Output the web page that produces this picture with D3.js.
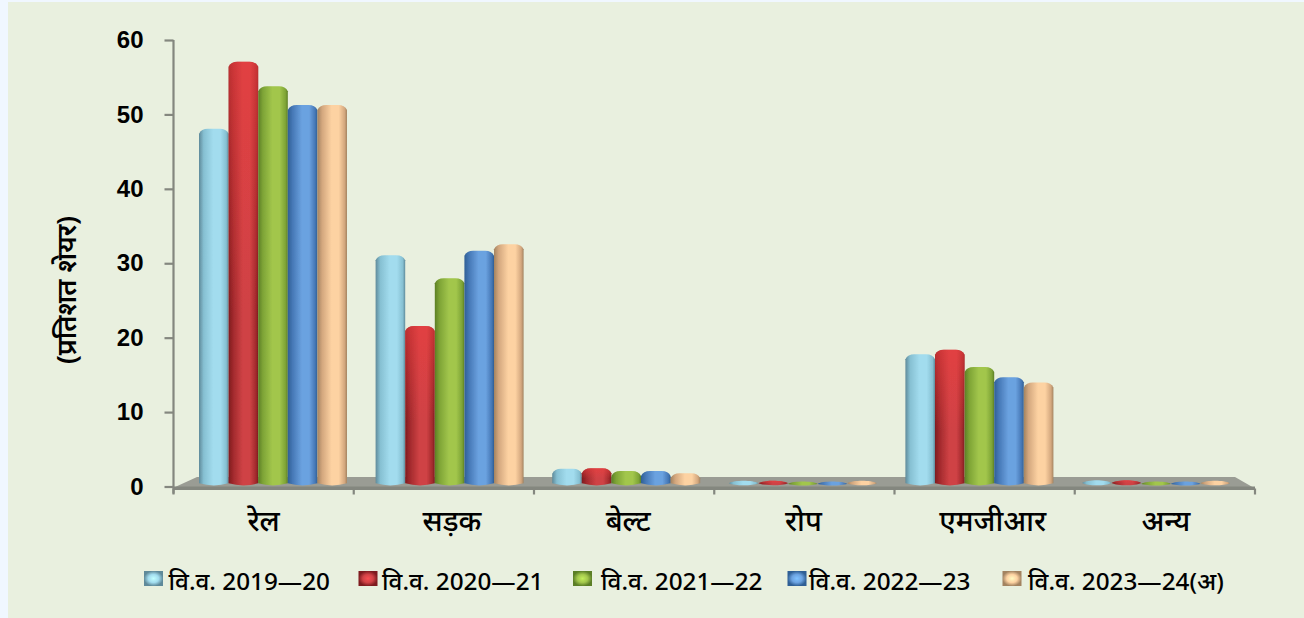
<!DOCTYPE html>
<html><head><meta charset="utf-8">
<script src="https://cdn.jsdelivr.net/npm/d3@7"></script>
<style>html,body{margin:0;padding:0;background:#f0f7ff}svg{display:block}</style></head>
<body><svg id="c" width="1304" height="618"></svg>
<script>
const categories = ["रेल","सड़क","बेल्ट","रोप","एमजीआर","अन्य"];
const seriesNames = ["वि.व. 2019—20","वि.व. 2020—21","वि.व. 2021—22","वि.व. 2022—23","वि.व. 2023—24(अ)"];
const fy1920 = [47.8,30.8,2.1,0.4,17.5,0.5];
const fy2021 = [56.8,21.3,2.2,0.4,18.1,0.5];
const fy2122 = [53.5,27.7,1.8,0.3,15.8,0.3];
const fy2223 = [51.0,31.4,1.8,0.3,14.4,0.3];
const fy2324 = [51.0,32.3,1.5,0.4,13.7,0.4];
const allSeries = [fy1920,fy2021,fy2122,fy2223,fy2324];
const yTicks = [0,10,20,30,40,50,60];
const colors = [
 ["#5f8a9a","#a2dcee","#86c0d2"],
 ["#7e1b1f","#cf4245","#a22a2d"],
 ["#5c7f26","#a2c64c","#7ea436"],
 ["#2f5f95","#6ba2e0","#4678b6"],
 ["#a38360","#fdd2a2","#d3a77e"]];
const legendX = [144,358.5,573,787.5,1002.5];
const legendTextX = [168.5,382,601,809,1028];
const labelDx = [0,8,4,-1,8,1];

const svg = d3.select("#c");
const defs = svg.append("defs");
defs.append("filter").attr("id","soft").attr("x","-5%").attr("y","-5%").attr("width","110%").attr("height","110%")
  .append("feGaussianBlur").attr("stdDeviation",0.6);
const sheen = defs.append("linearGradient").attr("id","sheen").attr("x2",0).attr("y2",1);
sheen.append("stop").attr("offset",0).attr("stop-color","#f04040").attr("stop-opacity",.55);
sheen.append("stop").attr("offset",.6).attr("stop-color","#f04040").attr("stop-opacity",0);
colors.forEach((c,i)=>{
  const g = defs.append("linearGradient").attr("id","g"+i);
  [[0,c[0]],[.16,c[2]],[.48,c[1]],[.72,c[1]],[.92,c[2]],[1,c[0]]].forEach(s=>g.append("stop").attr("offset",s[0]).attr("stop-color",s[1]));
  const l = defs.append("radialGradient").attr("id","l"+i);
  [[0,d3.color(c[1]).brighter(.5).formatHex()],[.55,c[1]],[1,c[0]]].forEach(s=>l.append("stop").attr("offset",s[0]).attr("stop-color",s[1]));
});
const font = "'Noto Sans','Liberation Sans',sans-serif";
const y = d3.scaleLinear().domain([0,60]).range([486.5,40]);
const xAxisScale = d3.scaleBand().domain(categories).range([173.5,1255]);
const xBars = d3.scaleBand().domain(categories).range([184.7,1244.3]);
const xSeries = d3.scaleBand().domain(d3.range(5)).range([-74,74]);
const axisColor = "#84877f";

svg.append("rect").attr("x",8).attr("y",2).attr("width",1296).attr("height",616).attr("fill","#e9f0df");
// floor
svg.append("path").attr("d",`M174,${y(0)+1} L197,477 L1235,477 L1255,${y(0)+2} Z`).attr("fill","#9a9c94");
svg.append("rect").attr("x",173.5).attr("y",y(0)).attr("width",1081.5).attr("height",3.5).attr("fill",axisColor);
// axes
const gy = svg.append("g").attr("transform","translate(173.5,0)")
  .call(d3.axisLeft(y).tickValues(yTicks).tickSize(9).tickPadding(21));
gy.selectAll("path,line").attr("stroke",axisColor).attr("stroke-width",2.2);
gy.selectAll("text").attr("font-family","'Liberation Sans',Arial,sans-serif").attr("font-weight","bold").attr("font-size",24).attr("fill","#000");
gy.select(".domain").attr("d",`M0,${y(60)}V${y(0)+7}`);
const gx = svg.append("g").attr("transform",`translate(0,${y(0)+3})`)
  .call(d3.axisBottom(xAxisScale).tickSize(0).tickPadding(21));
gx.select(".domain").remove();
gx.selectAll("text").attr("dx",(d,i)=>labelDx[i]).attr("font-family",font).attr("font-size",29).attr("font-weight",500).attr("fill","#000");
const edges = categories.map(c=>xAxisScale(c)).concat([xAxisScale.range()[1]]);
svg.append("g").selectAll("line").data(edges).join("line")
  .attr("x1",d=>d).attr("x2",d=>d).attr("y1",y(0)+2).attr("y2",y(0)+8).attr("stroke",axisColor).attr("stroke-width",2.2);
// bars
const capRy = 5;
const barPath = (v,ci,si)=>{
  const x0 = xBars(categories[ci])+xBars.bandwidth()/2+xSeries(si);
  const w = xSeries.bandwidth();
  const top = y(v)-2, base = y(0)-1.5;
  if (base-top < 6) {
    const m = (top+base)/2;
    return `M${x0},${m} C${x0+w*.2},${top-1.5} ${x0+w*.8},${top-1.5} ${x0+w},${m} C${x0+w*.8},${base+1} ${x0+w*.2},${base+1} ${x0},${m} Z`;
  }
  const ry = Math.min(capRy,(base-top)/2+1.5);
  return `M${x0},${top+ry} Q${x0+w*.08},${top} ${x0+w*.3},${top} L${x0+w*.7},${top} Q${x0+w*.92},${top} ${x0+w},${top+ry} L${x0+w},${base-ry/3} Q${x0+w/2},${base+ry/2} ${x0},${base-ry/3} Z`;
};
const barsG = svg.append("g").attr("filter","url(#soft)");
allSeries.forEach((vals,si)=>{
  barsG.append("g").selectAll("path").data(vals).join("path")
    .attr("fill",`url(#g${si})`)
    .attr("d",(v,ci)=>barPath(v,ci,si));
});
barsG.append("g").selectAll("path").data(fy2021).join("path")
  .attr("fill","url(#sheen)").attr("d",(v,ci)=>barPath(v,ci,1));
// y title
svg.append("text").attr("transform","translate(76,290) rotate(-90)").attr("text-anchor","middle")
  .attr("font-family",font).attr("font-size",27).attr("font-weight",600).attr("fill","#000").text("(प्रतिशत शेयर)");
// legend
const lg = svg.append("g");
lg.selectAll("rect").data(seriesNames).join("rect")
  .attr("x",(d,i)=>legendX[i]).attr("y",571).attr("width",19).attr("height",15).attr("fill",(d,i)=>`url(#l${i})`);
lg.selectAll("text").data(seriesNames).join("text")
  .attr("x",(d,i)=>legendTextX[i]).attr("y",590).attr("font-family",font).attr("font-size",24.3).attr("font-weight",500).attr("fill","#000").text(d=>d);
</script></body></html>
